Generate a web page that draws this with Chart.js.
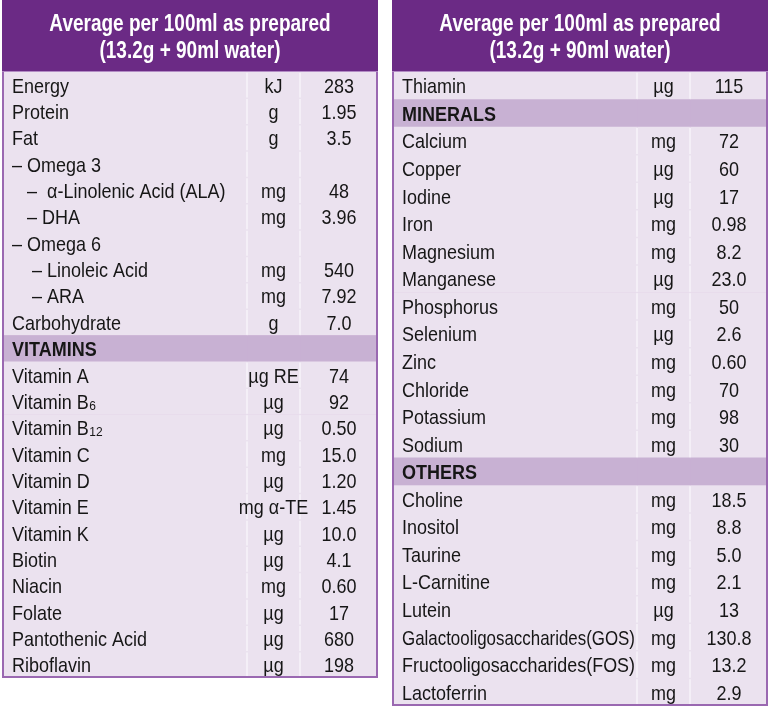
<!DOCTYPE html>
<html>
<head>
<meta charset="utf-8">
<script src="https://cdn.jsdelivr.net/npm/chart.js"></script>
<style>
  body { margin: 0; background: #fff; width: 769px; height: 707px; overflow: hidden; position: relative; }
  canvas { position: absolute; top: 0; }
  #left { left: 2px; }
  #right { left: 392px; }
</style>
</head>
<body>
<canvas id="left" width="376" height="678"></canvas>
<canvas id="right" width="376" height="706"></canvas>
<script>
// === DATOS ===
const headerLines = ['Average per 100ml as prepared', '(13.2g + 90ml water)'];
const sections = ['VITAMINS', 'MINERALS', 'OTHERS'];

const leftNames = ['Energy', 'Protein', 'Fat', '– Omega 3', '   –  α-Linolenic Acid (ALA)', '   – DHA',
  '– Omega 6', '    – Linoleic Acid', '    – ARA', 'Carbohydrate', 'VITAMINS', 'Vitamin A', 'Vitamin B₆',
  'Vitamin B₁₂', 'Vitamin C', 'Vitamin D', 'Vitamin E', 'Vitamin K', 'Biotin', 'Niacin', 'Folate',
  'Pantothenic Acid', 'Riboflavin'];
const leftUnits = ['kJ', 'g', 'g', '', 'mg', 'mg', '', 'mg', 'mg', 'g', '', 'µg RE', 'µg', 'µg', 'mg', 'µg',
  'mg α-TE', 'µg', 'µg', 'mg', 'µg', 'µg', 'µg'];
const leftValues = ['283', '1.95', '3.5', '', '48', '3.96', '', '540', '7.92', '7.0', '', '74', '92', '0.50',
  '15.0', '1.20', '1.45', '10.0', '4.1', '0.60', '17', '680', '198'];

const rightNames = ['Thiamin', 'MINERALS', 'Calcium', 'Copper', 'Iodine', 'Iron', 'Magnesium', 'Manganese',
  'Phosphorus', 'Selenium', 'Zinc', 'Chloride', 'Potassium', 'Sodium', 'OTHERS', 'Choline', 'Inositol',
  'Taurine', 'L-Carnitine', 'Lutein', 'Galactooligosaccharides(GOS)', 'Fructooligosaccharides(FOS)', 'Lactoferrin'];
const rightUnits = ['µg', '', 'mg', 'µg', 'µg', 'mg', 'mg', 'µg', 'mg', 'µg', 'mg', 'mg', 'mg', 'mg', '',
  'mg', 'mg', 'mg', 'mg', 'µg', 'mg', 'mg', 'mg'];
const rightValues = ['115', '', '72', '60', '17', '0.98', '8.2', '23.0', '50', '2.6', '0.60', '70', '98', '30', '',
  '18.5', '8.8', '5.0', '2.1', '13', '130.8', '13.2', '2.9'];

// === ESTILO ===
const colWidths = [245, 53, 78];   // nombre | unidad | valor
const FONT = "'Liberation Sans', Arial, sans-serif";
const HEADER_H = 72;
const HEADER = '#6b2a85';
const ROW_BG = '#ebe2ef';
const SECTION_BG = '#c8b1d3';
const GRID = '#b28bc4';
const OUTER = '#9a68b1';
const DIVIDER = '#f8f4fa';
const TEXT = '#161616';
const STRETCH = 1.1;      // el texto original es algo más alto que ancho
const HEAD_STRETCH = 1.25;

const SUBS = '₀₁₂₃₄₅₆₇₈₉';

// texto estirado verticalmente
function txt(ctx, s, x, y, align, font, sy, maxW) {
  ctx.save();
  ctx.translate(x, y);
  ctx.scale(1, sy);
  ctx.font = font;
  ctx.textAlign = align;
  if (maxW) ctx.fillText(s, 0, 0, maxW); else ctx.fillText(s, 0, 0);
  ctx.restore();
}

function drawName(ctx, text, x, y, maxW, bold) {
  const font = (bold ? 'bold ' : '') + '18px ' + FONT;
  const m = text.match(/^(.*?)([₀-₉]+)$/);
  if (!m) { txt(ctx, text, x, y, 'left', font, STRETCH, maxW); return; }
  txt(ctx, m[1], x, y, 'left', font, STRETCH);
  ctx.font = font;
  const w = ctx.measureText(m[1]).width;
  const digits = [...m[2]].map(c => SUBS.indexOf(c)).join('');
  txt(ctx, digits, x + w + 0.5, y + 1, 'left', '12px ' + FONT, STRETCH);
}

const tablePlugin = {
  id: 'tabla',
  beforeDraw(chart) {
    const { ctx, chartArea } = chart;
    ctx.save();
    ctx.fillStyle = HEADER;
    ctx.fillRect(0, 0, chart.width, chartArea.top);
    ctx.fillStyle = '#ffffff';
    ctx.textBaseline = 'alphabetic';
    txt(ctx, headerLines[0], chart.width / 2, 31, 'center', 'bold 19px ' + FONT, HEAD_STRETCH);
    txt(ctx, headerLines[1], chart.width / 2, 58, 'center', 'bold 19px ' + FONT, HEAD_STRETCH);
    ctx.restore();
  },
  afterDraw(chart) {
    const { ctx, chartArea } = chart;
    const x = chart.scales.x, y = chart.scales.y;
    const t = chart.options.plugins.tabla;
    const rowH = y.getPixelForValue(1) - y.getPixelForValue(0);
    const b0 = x.getPixelForValue(0);
    const b1 = x.getPixelForValue(colWidths[0]);
    const b2 = x.getPixelForValue(colWidths[0] + colWidths[1]);
    const b3 = x.getPixelForValue(colWidths[0] + colWidths[1] + colWidths[2]);
    ctx.save();
    // divisores verticales
    ctx.strokeStyle = DIVIDER;
    ctx.lineWidth = 1.5;
    t.names.forEach((n, i) => {
      if (sections.includes(n)) return;
      const yc = y.getPixelForValue(i);
      ctx.beginPath();
      [b1, b2].forEach(bx => {
        ctx.moveTo(bx, yc - rowH / 2 + 0.75);
        ctx.lineTo(bx, yc + rowH / 2 - 0.75);
      });
      ctx.stroke();
    });
    // borde exterior
    ctx.strokeStyle = OUTER;
    ctx.lineWidth = 2;
    ctx.beginPath();
    ctx.moveTo(chartArea.left + 1, chartArea.top);
    ctx.lineTo(chartArea.left + 1, chartArea.bottom);
    ctx.moveTo(chartArea.right - 1, chartArea.top);
    ctx.lineTo(chartArea.right - 1, chartArea.bottom);
    ctx.moveTo(chartArea.left, chartArea.bottom - 1);
    ctx.lineTo(chartArea.right, chartArea.bottom - 1);
    ctx.stroke();
    // textos
    ctx.fillStyle = TEXT;
    ctx.textBaseline = 'alphabetic';
    const font = '18px ' + FONT;
    t.names.forEach((n, i) => {
      const base = y.getPixelForValue(i) + 7.5;
      const isSec = sections.includes(n);
      drawName(ctx, n, b0 + 10, base, b1 - b0 - 12, isSec);
      if (isSec) return;
      txt(ctx, t.units[i], (b1 + b2) / 2, base, 'center', font, STRETCH);
      txt(ctx, t.values[i], (b2 + b3) / 2, base, 'center', font, STRETCH);
    });
    ctx.restore();
  }
};

function crearTabla(id, names, units, values) {
  const bg = c => sections.includes(names[c.dataIndex]) ? SECTION_BG : ROW_BG;
  const celda = w => ({
    data: names.map(() => w),
    backgroundColor: bg,
    borderWidth: 0,
    barPercentage: 1,
    categoryPercentage: 1
  });
  new Chart(document.getElementById(id), {
    type: 'bar',
    data: {
      labels: names,
      datasets: colWidths.map(celda)
    },
    options: {
      indexAxis: 'y',
      responsive: false,
      animation: false,
      devicePixelRatio: 1,
      layout: { padding: { top: HEADER_H, left: 0, right: 0, bottom: 0 } },
      events: [],
      scales: {
        x: {
          display: false,
          stacked: true,
          min: 0,
          max: colWidths[0] + colWidths[1] + colWidths[2]
        },
        y: {
          stacked: true,
          z: 1,
          ticks: { display: false },
          border: { display: false },
          grid: { color: GRID, lineWidth: 1.5, drawTicks: false, offset: true }
        }
      },
      plugins: {
        legend: { display: false },
        tooltip: { enabled: false },
        title: { display: false },
        tabla: { names, units, values }
      }
    },
    plugins: [tablePlugin]
  });
}

crearTabla('left', leftNames, leftUnits, leftValues);
crearTabla('right', rightNames, rightUnits, rightValues);
</script>
</body>
</html>
